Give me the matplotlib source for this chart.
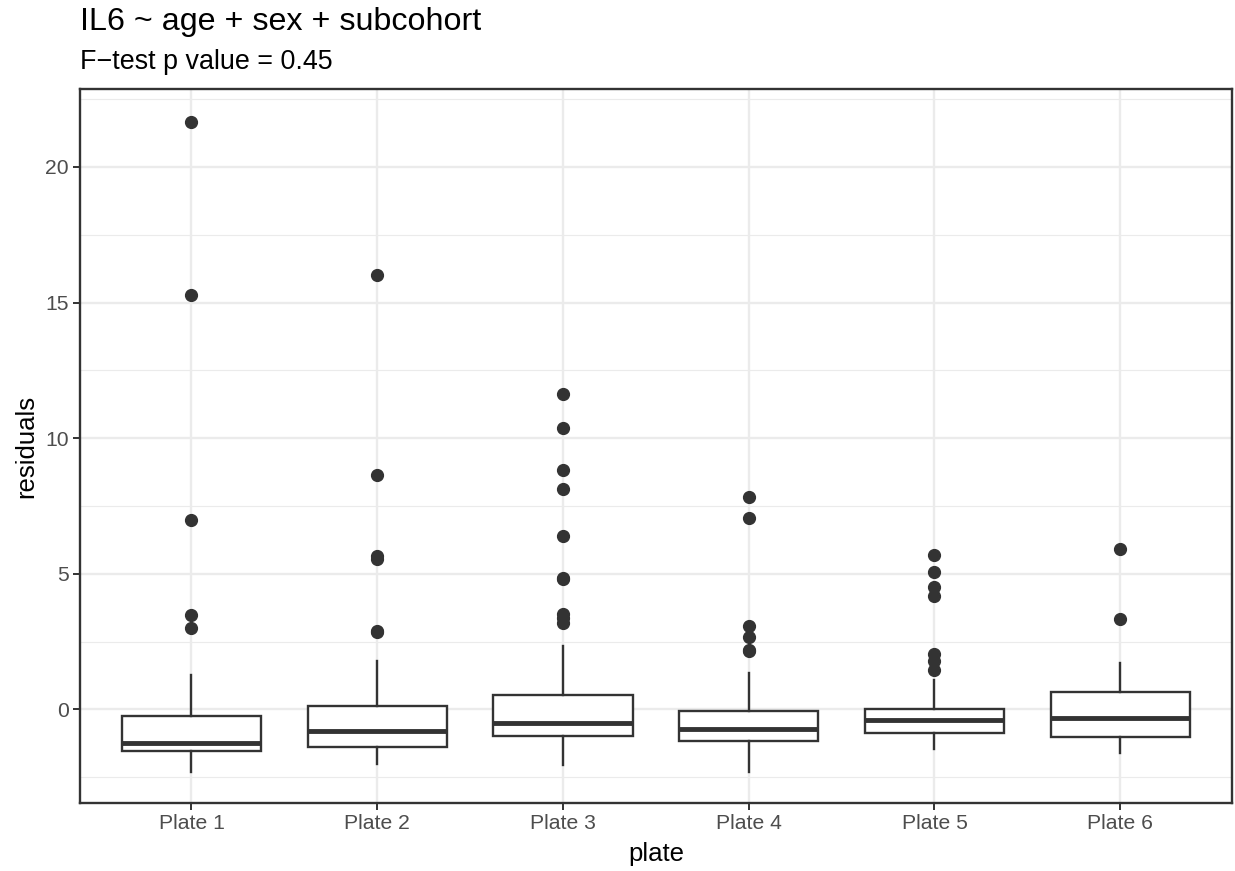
import matplotlib
matplotlib.use("Agg")
import matplotlib.pyplot as plt
from matplotlib.ticker import MultipleLocator

plt.rcParams['font.family'] = ['Liberation Sans', 'DejaVu Sans']

# data
plates = ["Plate 1", "Plate 2", "Plate 3", "Plate 4", "Plate 5", "Plate 6"]
q1 = [-1.54, -1.40, -0.98, -1.18, -0.85, -1.03]
med = [-1.25, -0.79, -0.49, -0.73, -0.39, -0.33]
q3 = [-0.25, 0.12, 0.53, -0.07, 0.00, 0.64]
whislo = [-2.32, -2.00, -2.06, -2.30, -1.47, -1.62]
whishi = [1.26, 1.78, 2.35, 1.36, 1.07, 1.70]
outliers = [
    [21.66, 15.28, 6.98, 3.50, 2.99],
    [16.03, 8.63, 5.66, 5.55, 2.89, 2.86],
    [11.62, 10.38, 8.82, 8.12, 6.38, 4.85, 4.80, 3.52, 3.38, 3.20],
    [7.83, 7.05, 3.07, 2.67, 2.18, 2.16],
    [5.71, 5.05, 4.53, 4.19, 2.06, 1.78, 1.45],
    [5.92, 3.34],
]

DARK = "#333333"
GRID = "#EBEBEB"

fig = plt.figure(figsize=(12.35, 8.71), dpi=100)
ax = fig.add_axes([0.0648, 0.078, 0.9325, 0.8195])

stats = []
for i in range(len(plates)):
    stats.append(dict(med=med[i], q1=q1[i], q3=q3[i], whislo=whislo[i],
                      whishi=whishi[i], fliers=outliers[i], label=plates[i]))

ax.bxp(stats, positions=range(1, len(plates) + 1), widths=0.75,
       patch_artist=True, showcaps=False, zorder=3,
       boxprops=dict(facecolor="white", edgecolor=DARK, linewidth=1.7),
       medianprops=dict(color=DARK, linewidth=3.5, solid_capstyle="butt"),
       whiskerprops=dict(color=DARK, linewidth=1.7),
       flierprops=dict(marker="o", markerfacecolor=DARK, markeredgecolor=DARK,
                       markersize=8.5, linestyle="none"))

ax.set_xlim(0.4, 6.6)
ax.set_ylim(-3.45, 22.86)
ax.yaxis.set_major_locator(MultipleLocator(5))
ax.yaxis.set_minor_locator(MultipleLocator(2.5))

ax.grid(True, which="major", color=GRID, linewidth=1.7, zorder=0)
ax.grid(True, which="minor", axis="y", color=GRID, linewidth=0.85, zorder=0)
ax.set_axisbelow(True)

for s in ax.spines.values():
    s.set_color(DARK)
    s.set_linewidth(1.7)

ax.tick_params(axis="both", which="major", colors=DARK, length=5, width=1.4,
               labelsize=15.2, labelcolor="#4D4D4D", pad=3)
ax.tick_params(axis="y", which="minor", length=0)

ax.set_xlabel("plate", fontsize=18.5, color="black", labelpad=6)
ax.set_ylabel("residuals", fontsize=18.5, color="black", labelpad=5)

fig.text(0.0648, 0.9656, "IL6 ~ age + sex + subcohort", fontsize=23.2,
         ha="left", va="baseline")
fig.text(0.0648, 0.9208, "F\u2212test p value = 0.45", fontsize=19.4,
         ha="left", va="baseline")

fig.savefig("out.png", dpi=100, facecolor="white")
